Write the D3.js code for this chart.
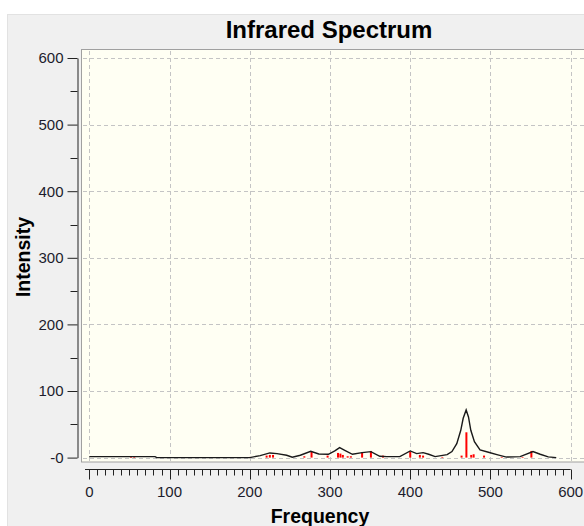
<!DOCTYPE html>
<html><head><meta charset="utf-8">
<script src="https://cdn.jsdelivr.net/npm/d3@7"></script>
<style>html,body{margin:0;padding:0;background:#fff;overflow:hidden}</style>
</head><body><svg id="c" width="584" height="526"></svg>
<script>
const titleText = "Infrared Spectrum";
const xLabel = "Frequency";
const yLabel = "Intensity";
const xTicks = [0,100,200,300,400,500,600];
const xTickLabels = ["0","100","200","300","400","500","600"];
const yTicks = [0,100,200,300,400,500,600];
const yTickLabels = ["-0","100","200","300","400","500","600"];
// stick spectrum (red)
const stickFreq = [52,56,200,221,225,229,268,277,297,310,313,316,322,326,340,351,366,400,412,416,440,464,470,476,479,492,514,540,551];
const stickInt  = [1,1,1,3,4,4,2,9,3,7,6,4,2,2,8,10,3,9,4,3,1,3,38,4,5,3,1,1,10];
// broadened spectrum (black line)
const specFreq = [0,82,84,200,213,225,234,246,253,263,276,286,298,306,312,319,328,340,351,362,371,387,400,408,416,423,431,446,452,458,463,466,469.7,472.6,475.5,480,487,497.5,508,520,537,553,562,572,582];
const specInt  = [1.5,1.5,0,0,3,7,6,3.5,0.5,3.5,9.5,5.5,5,10,15,10.5,5,7.5,9,2,1.5,1.5,10,6,7.5,5,1.5,4.5,9,21,41,59,71.5,61,41,24,11.5,8,4.5,0.8,1.5,9,5,1,0];

const svg = d3.select("#c");
const x = d3.scaleLinear().domain([0,600]).range([89.3,570.7]);
const y = d3.scaleLinear().domain([0,600]).range([457.6,58]);
const font = "'Liberation Sans', Arial, sans-serif";

// panel
svg.append("rect").attr("x",7.5).attr("y",14.5).attr("width",580).attr("height",515)
  .attr("fill","#f0f0f0").attr("stroke","#e2e2e2");

// plot area
svg.append("rect").attr("x",81.5).attr("y",49.5).attr("width",510).attr("height",412.5)
  .attr("fill","#fffff3").attr("stroke","#a0a0a0");

// grid
const grid = svg.append("g").attr("stroke","#c4c4c4").attr("stroke-dasharray","4,3").attr("stroke-width",1);
xTicks.forEach(t=>grid.append("line").attr("x1",Math.round(x(t))+0.5).attr("x2",Math.round(x(t))+0.5).attr("y1",51).attr("y2",461));
yTicks.forEach(t=>grid.append("line").attr("y1",Math.round(y(t))+0.5).attr("y2",Math.round(y(t))+0.5).attr("x1",83).attr("x2",584));

// y axis
const yAxis = d3.axisLeft(y).tickValues(yTicks).tickSize(10).tickSizeOuter(0)
  .tickFormat((d,i)=>yTickLabels[i]).tickPadding(4);
const gy = svg.append("g").attr("transform","translate(77.5,0)").call(yAxis);
gy.selectAll("text").attr("font-family",font).attr("font-size",15).attr("fill","#1c1c2c");
gy.selectAll("line").attr("stroke","#222");
gy.select(".domain").attr("stroke","#222");
const yMinor = d3.range(50,600,100);
gy.selectAll(".minor").data(yMinor).enter().append("line").attr("class","minor")
  .attr("x1",-7).attr("x2",0).attr("y1",d=>Math.round(y(d))+0.5).attr("y2",d=>Math.round(y(d))+0.5).attr("stroke","#222");

// x axis
const gx = svg.append("g").attr("transform","translate(0,469.5)");
gx.append("line").attr("x1",85).attr("x2",x(600)).attr("stroke","#222");
const xMinor = d3.range(0,601,10);
gx.selectAll(".mt").data(xMinor).enter().append("line")
  .attr("x1",d=>Math.round(x(d))+0.5).attr("x2",d=>Math.round(x(d))+0.5)
  .attr("y1",0).attr("y2",d=>d%100===0?10:6).attr("stroke","#222");
gx.selectAll(".lab").data(xTicks).enter().append("text")
  .attr("x",d=>x(d)).attr("y",27.5).attr("text-anchor","middle")
  .attr("font-family",font).attr("font-size",15).attr("fill","#1c1c2c")
  .text((d,i)=>xTickLabels[i]);

// sticks
svg.append("g").selectAll("line").data(stickFreq).enter().append("line")
  .attr("x1",d=>x(d)).attr("x2",d=>x(d))
  .attr("y1",y(0)).attr("y2",(d,i)=>y(stickInt[i]))
  .attr("stroke","#ff0000").attr("stroke-width",2);

// spectrum line
const line = d3.line().x(d=>x(d[0])).y(d=>y(d[1]));
svg.append("path").datum(specFreq.map((f,i)=>[f,specInt[i]]))
  .attr("d",line).attr("fill","none").attr("stroke","#1a1a1a").attr("stroke-width",1.4);

// titles
svg.append("text").attr("x",329).attr("y",38).attr("text-anchor","middle")
  .attr("font-family",font).attr("font-weight","bold").attr("font-size",24).attr("fill","#000").text(titleText);
svg.append("text").attr("x",320).attr("y",523).attr("text-anchor","middle")
  .attr("font-family",font).attr("font-weight","bold").attr("font-size",19.5).attr("fill","#000").text(xLabel);
svg.append("text").attr("transform","translate(30,257) rotate(-90)").attr("text-anchor","middle")
  .attr("font-family",font).attr("font-weight","bold").attr("font-size",19.5).attr("fill","#000").text(yLabel);
</script></body></html>
